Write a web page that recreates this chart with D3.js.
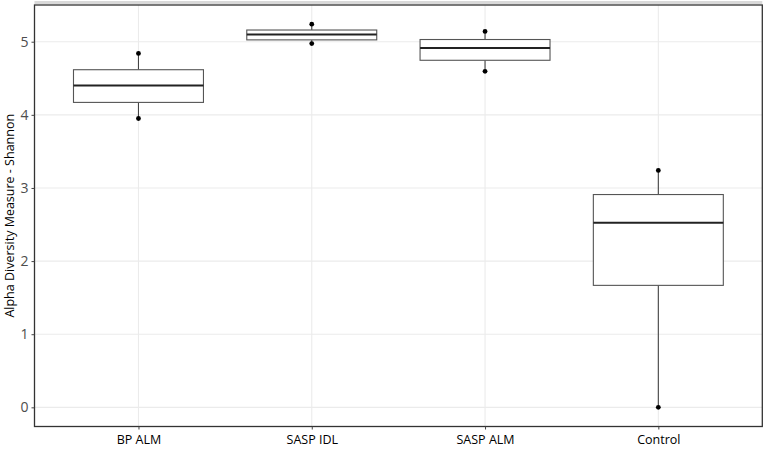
<!DOCTYPE html>
<html>
<head>
<meta charset="utf-8">
<script src="https://cdn.jsdelivr.net/npm/d3@7"></script>
<style>
  html, body { margin: 0; padding: 0; background: #fff; }
  svg { display: block; }
</style>
</head>
<body>
<svg id="chart" width="765" height="450"></svg>
<script>
// ---- data ----
const categories = ["BP ALM", "SASP IDL", "SASP ALM", "Control"];
const whiskerLow = [3.95, 4.975, 4.595, 0.0];
const q1 = [4.17, 5.025, 4.746, 1.668];
const median = [4.40, 5.10, 4.915, 2.524];
const q3 = [4.617, 5.16, 5.03, 2.91];
const whiskerHigh = [4.84, 5.24, 5.14, 3.24];
const yTicks = [0, 1, 2, 3, 4, 5];
const yTitle = "Alpha Diversity Measure - Shannon";

// ---- layout ----
const svg = d3.select("#chart");
const pLeft = 34.5, pRight = 762.3, pTop = 5, pBottom = 426.5;

const dataMin = d3.min(whiskerLow), dataMax = d3.max(whiskerHigh);
const pad = (dataMax - dataMin) * 0.05;
const y = d3.scaleLinear().domain([dataMin - pad, dataMax + pad]).range([pBottom, pTop]);

const x = d3.scalePoint().domain(categories).range([pLeft, pRight]).padding(0.6);
const step = x.step();
const boxW = step * 0.75;

// top strip remnant
svg.append("rect").attr("x", pLeft).attr("y", 1).attr("width", pRight - pLeft).attr("height", 3.2)
  .attr("fill", "#d9d9d9");

// panel background
svg.append("rect").attr("x", pLeft).attr("y", pTop).attr("width", pRight - pLeft).attr("height", pBottom - pTop)
  .attr("fill", "#fff");

// gridlines
const grid = svg.append("g");
grid.selectAll("line.h").data(yTicks).join("line")
  .attr("x1", pLeft).attr("x2", pRight)
  .attr("y1", d => y(d)).attr("y2", d => y(d))
  .attr("stroke", "#ebebeb").attr("stroke-width", 1.1);
grid.selectAll("line.v").data(categories).join("line")
  .attr("y1", pTop).attr("y2", pBottom)
  .attr("x1", d => x(d)).attr("x2", d => x(d))
  .attr("stroke", "#ebebeb").attr("stroke-width", 1.1);

// boxes
const idx = d3.range(categories.length);
const boxes = svg.append("g");
const g = boxes.selectAll("g").data(idx).join("g");
g.append("line").attr("x1", i => x(categories[i])).attr("x2", i => x(categories[i]))
  .attr("y1", i => y(q3[i])).attr("y2", i => y(whiskerHigh[i]))
  .attr("stroke", "#444").attr("stroke-width", 1.1);
g.append("line").attr("x1", i => x(categories[i])).attr("x2", i => x(categories[i]))
  .attr("y1", i => y(q1[i])).attr("y2", i => y(whiskerLow[i]))
  .attr("stroke", "#444").attr("stroke-width", 1.1);
g.append("rect")
  .attr("x", i => x(categories[i]) - boxW / 2)
  .attr("width", boxW)
  .attr("y", i => y(q3[i]))
  .attr("height", i => y(q1[i]) - y(q3[i]))
  .attr("fill", "#fff").attr("stroke", "#555").attr("stroke-width", 1.1);
g.append("line")
  .attr("x1", i => x(categories[i]) - boxW / 2).attr("x2", i => x(categories[i]) + boxW / 2)
  .attr("y1", i => y(median[i])).attr("y2", i => y(median[i]))
  .attr("stroke", "#222").attr("stroke-width", 2);
g.append("circle").attr("cx", i => x(categories[i])).attr("cy", i => y(whiskerHigh[i]))
  .attr("r", 2.4).attr("fill", "#000");
g.append("circle").attr("cx", i => x(categories[i])).attr("cy", i => y(whiskerLow[i]))
  .attr("r", 2.4).attr("fill", "#000");

// panel border
svg.append("rect").attr("x", pLeft).attr("y", pTop).attr("width", pRight - pLeft).attr("height", pBottom - pTop)
  .attr("fill", "none").attr("stroke", "#333").attr("stroke-width", 1.3);

// axes
const yAxis = d3.axisLeft(y).tickValues(yTicks).tickSize(3).tickPadding(3).tickFormat(d3.format("d"));
const ya = svg.append("g").attr("transform", `translate(${pLeft},0)`).call(yAxis);
ya.select(".domain").remove();
ya.selectAll(".tick line").attr("stroke", "#444");
ya.selectAll(".tick text").attr("fill", "#4d4d4d").style("font-family", "'Open Sans', sans-serif")
  .style("font-size", "14px");

const xAxis = d3.axisBottom(x).tickSize(3).tickPadding(6);
const xa = svg.append("g").attr("transform", `translate(0,${pBottom})`).call(xAxis);
xa.select(".domain").remove();
xa.selectAll(".tick line").attr("stroke", "#444");
xa.selectAll(".tick text").attr("fill", "#000").style("font-family", "'Open Sans', sans-serif")
  .style("font-size", "12.5px");

// y title
svg.append("text")
  .attr("transform", `translate(14,${(pTop + pBottom) / 2}) rotate(-90)`)
  .attr("text-anchor", "middle")
  .style("font-family", "'Open Sans', sans-serif").style("font-size", "12.5px")
  .attr("fill", "#000")
  .text(yTitle);
</script>
</body>
</html>
